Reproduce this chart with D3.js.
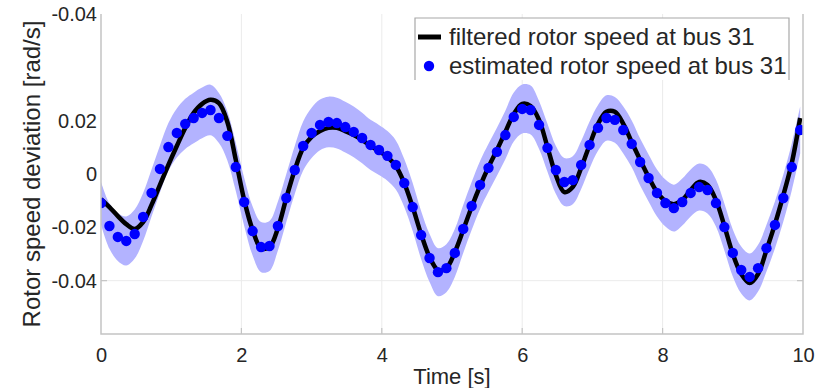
<!DOCTYPE html>
<html>
<head>
<meta charset="utf-8">
<script src="https://cdn.jsdelivr.net/npm/d3@7"></script>
<style>
  html, body { margin: 0; padding: 0; background: #fff; }
  svg { display: block; }
  text { font-family: "Liberation Sans", Arial, Helvetica, sans-serif; fill: #262626; }
</style>
</head>
<body>
<svg id="chart" width="818" height="388"></svg>
<script>
// Sample times [s]
const times = [0, 0.12, 0.24, 0.36, 0.48, 0.6, 0.72, 0.84, 0.96, 1.08, 1.2, 1.32, 1.44, 1.56, 1.68, 1.8, 1.92, 2.04, 2.16, 2.28,
  2.4, 2.52, 2.64, 2.76, 2.88, 3, 3.12, 3.24, 3.36, 3.48, 3.6, 3.72, 3.84, 3.96, 4.08, 4.2, 4.32, 4.44, 4.56, 4.68,
  4.8, 4.92, 5.04, 5.16, 5.28, 5.4, 5.52, 5.64, 5.76, 5.88, 6, 6.12, 6.24, 6.36, 6.48, 6.6, 6.72, 6.84, 6.96, 7.08,
  7.2, 7.32, 7.44, 7.56, 7.68, 7.8, 7.92, 8.04, 8.16, 8.28, 8.4, 8.52, 8.64, 8.76, 8.88, 9, 9.12, 9.24, 9.36, 9.48,
  9.6, 9.72, 9.84, 9.96];

// Filtered rotor speed deviation at bus 31 [rad/s]
const filtered = [-0.0094, -0.0124, -0.0158, -0.0188, -0.0206, -0.0180, -0.0116, -0.0041, 0.0034, 0.0105,
  0.0173, 0.0229, 0.0263, 0.0278, 0.0266, 0.0195, 0.0053, -0.0098, -0.0210, -0.0278,
  -0.0274, -0.0203, -0.0090, 0.0015, 0.0098, 0.0139, 0.0161, 0.0173, 0.0173, 0.0161,
  0.0146, 0.0128, 0.0105, 0.0086, 0.0064, 0.0030, -0.0034, -0.0124, -0.0225, -0.0311,
  -0.0360, -0.0353, -0.0293, -0.0210, -0.0124, -0.0045, 0.0026, 0.0090, 0.0158, 0.0225,
  0.0263, 0.0255, 0.0203, 0.0101, -0.0004, -0.0068, -0.0049, 0.0023, 0.0109, 0.0188,
  0.0233, 0.0233, 0.0188, 0.0120, 0.0053, -0.0011, -0.0068, -0.0101, -0.0113, -0.0098,
  -0.0060, -0.0030, -0.0041, -0.0098, -0.0195, -0.0300, -0.0375, -0.0409, -0.0375, -0.0285,
  -0.0188, -0.0079, 0.0041, 0.0210];

// Estimated rotor speed deviation at bus 31 [rad/s]
const estimated = [-0.0109, -0.0195, -0.0236, -0.0251, -0.0225, -0.0161, -0.0071, 0.0019, 0.0101, 0.0154,
  0.0188, 0.0210, 0.0229, 0.0240, 0.0210, 0.0143, 0.0026, -0.0105, -0.0214, -0.0274,
  -0.0270, -0.0195, -0.0090, 0.0015, 0.0105, 0.0154, 0.0184, 0.0195, 0.0191, 0.0176,
  0.0158, 0.0135, 0.0109, 0.0090, 0.0068, 0.0034, -0.0034, -0.0124, -0.0229, -0.0315,
  -0.0368, -0.0353, -0.0296, -0.0206, -0.0120, -0.0041, 0.0023, 0.0083, 0.0146, 0.0214,
  0.0244, 0.0240, 0.0184, 0.0098, 0.0015, -0.0030, -0.0023, 0.0034, 0.0109, 0.0173,
  0.0210, 0.0203, 0.0165, 0.0113, 0.0045, -0.0015, -0.0071, -0.0109, -0.0128, -0.0105,
  -0.0071, -0.0049, -0.0060, -0.0109, -0.0199, -0.0296, -0.0360, -0.0386, -0.0353, -0.0278,
  -0.0191, -0.0090, 0.0026, 0.0165];

// Half-width of the confidence band around the estimate [rad/s]
const bandHalf = [0.0080, 0.0085, 0.0090, 0.0092, 0.0092, 0.0090, 0.0088, 0.0088, 0.0090, 0.0092,
  0.0094, 0.0095, 0.0095, 0.0095, 0.0094, 0.0092, 0.0090, 0.0090, 0.0092, 0.0094,
  0.0094, 0.0092, 0.0090, 0.0090, 0.0092, 0.0094, 0.0095, 0.0095, 0.0095, 0.0095,
  0.0095, 0.0095, 0.0094, 0.0094, 0.0093, 0.0092, 0.0090, 0.0090, 0.0090, 0.0090,
  0.0090, 0.0090, 0.0090, 0.0090, 0.0090, 0.0090, 0.0090, 0.0090, 0.0091, 0.0092,
  0.0092, 0.0092, 0.0090, 0.0090, 0.0090, 0.0090, 0.0090, 0.0090, 0.0088, 0.0086,
  0.0085, 0.0086, 0.0088, 0.0088, 0.0088, 0.0088, 0.0088, 0.0088, 0.0088, 0.0088,
  0.0088, 0.0088, 0.0088, 0.0088, 0.0088, 0.0088, 0.0088, 0.0088, 0.0088, 0.0088,
  0.0088, 0.0088, 0.0088, 0.0088];

const xTickValues = [0, 2, 4, 6, 8, 10];
const xTickLabels = ["0", "2", "4", "6", "8", "10"];
const yTickValues = [0.06, 0.02, 0, -0.02, -0.04];
const yTickLabels = ["-0.04", "0.02", "0", "-0.02", "-0.04"];
const xGridValues = [2, 4, 6, 8];
const yGridValues = [-0.04];

const seriesNames = ["filtered rotor speed at bus 31", "estimated rotor speed at bus 31"];
const xTitle = "Time [s]";
const yTitle = "Rotor speed deviation [rad/s]";

// ---- layout ----
const plot = { left: 101, right: 803, top: 14, bottom: 334 };
const svg = d3.select("#chart");
svg.append("rect").attr("width", 818).attr("height", 388).attr("fill", "#fff");

const x = d3.scaleLinear().domain([0, 10]).range([plot.left, plot.right]);
const y = d3.scaleLinear().domain([-0.06, 0.06]).range([plot.bottom, plot.top]);

const rows = times.map((t, i) => ({ t, f: filtered[i], e: estimated[i], h: bandHalf[i] }));

// grid
const grid = svg.append("g");
grid.selectAll("line.vg").data(xGridValues).join("line")
  .attr("x1", d => x(d)).attr("x2", d => x(d))
  .attr("y1", plot.top).attr("y2", plot.bottom)
  .attr("stroke", "#ebebeb").attr("stroke-width", 1);
grid.selectAll("line.hg").data(yGridValues).join("line")
  .attr("x1", plot.left).attr("x2", plot.right)
  .attr("y1", d => y(d)).attr("y2", d => y(d))
  .attr("stroke", "#ebebeb").attr("stroke-width", 1);

// clip
svg.append("defs").append("clipPath").attr("id", "clip")
  .append("rect").attr("x", plot.left).attr("y", plot.top)
  .attr("width", plot.right - plot.left).attr("height", plot.bottom - plot.top);

const marks = svg.append("g").attr("clip-path", "url(#clip)");

// confidence band
const band = d3.area()
  .x(d => x(d.t))
  .y0(d => y(d.e - d.h))
  .y1(d => y(d.e + d.h))
  .curve(d3.curveCatmullRom);
marks.append("path").datum(rows).attr("d", band)
  .attr("fill", "#b3b3ff").attr("stroke", "none");

// filtered line
const line = d3.line().x(d => x(d.t)).y(d => y(d.f)).curve(d3.curveCatmullRom);
marks.append("path").datum(rows).attr("d", line)
  .attr("fill", "none").attr("stroke", "#000").attr("stroke-width", 4.5)
  .attr("stroke-linejoin", "round");

// estimated points
marks.selectAll("circle.est").data(rows).join("circle")
  .attr("cx", d => x(d.t)).attr("cy", d => y(d.e)).attr("r", 5.2)
  .attr("fill", "#0000ff");

// axes frame (left, bottom, right)
const axisColor = "#c4c4c4";
svg.append("path")
  .attr("d", `M${plot.left},${plot.top}V${plot.bottom}H${plot.right}V${plot.top}`)
  .attr("fill", "none").attr("stroke", axisColor).attr("stroke-width", 1.5);

// bottom ticks
svg.selectAll("line.xt").data(xGridValues).join("line")
  .attr("x1", d => x(d)).attr("x2", d => x(d))
  .attr("y1", plot.bottom).attr("y2", plot.bottom - 6)
  .attr("stroke", axisColor).attr("stroke-width", 1.2);
// left / right ticks at grid line
svg.selectAll("line.ytl").data(yGridValues).join("line")
  .attr("x1", plot.left).attr("x2", plot.left + 6)
  .attr("y1", d => y(d)).attr("y2", d => y(d))
  .attr("stroke", axisColor).attr("stroke-width", 1.2);
svg.selectAll("line.ytr").data(yGridValues).join("line")
  .attr("x1", plot.right).attr("x2", plot.right - 6)
  .attr("y1", d => y(d)).attr("y2", d => y(d))
  .attr("stroke", axisColor).attr("stroke-width", 1.2);

// x axis labels
const xAxis = d3.axisBottom(x).tickValues(xTickValues)
  .tickFormat((d, i) => xTickLabels[i]).tickSize(0).tickPadding(14);
const gx = svg.append("g").attr("transform", `translate(0,${plot.bottom})`).call(xAxis);
gx.select(".domain").remove();
gx.selectAll("text").style("font-size", "20px").style("fill", "#262626")
  .style("font-family", "'Liberation Sans', Arial, sans-serif");

// y axis labels
const yAxis = d3.axisLeft(y).tickValues(yTickValues)
  .tickFormat((d, i) => yTickLabels[i]).tickSize(0).tickPadding(4);
const gy = svg.append("g").attr("transform", `translate(${plot.left},0)`).call(yAxis);
gy.select(".domain").remove();
gy.selectAll("text").style("font-size", "20px").style("fill", "#262626")
  .style("font-family", "'Liberation Sans', Arial, sans-serif");

// axis titles
svg.append("text").attr("x", (plot.left + plot.right) / 2).attr("y", 384)
  .attr("text-anchor", "middle").style("font-size", "22px").text(xTitle);
svg.append("text")
  .attr("transform", `translate(40,${(plot.top + plot.bottom) / 2}) rotate(-90)`)
  .attr("text-anchor", "middle").style("font-size", "24px").text(yTitle);

// legend
const lg = svg.append("g");
lg.append("rect").attr("x", 415).attr("y", 18).attr("width", 374).attr("height", 62)
  .attr("fill", "#fff").attr("stroke", "none");
lg.append("path").attr("d", "M415,80V18H789V80")
  .attr("fill", "none").attr("stroke", "#a8a8a8").attr("stroke-width", 1.2);
lg.append("line").attr("x1", 418).attr("x2", 441).attr("y1", 37).attr("y2", 37)
  .attr("stroke", "#000").attr("stroke-width", 5);
lg.append("circle").attr("cx", 429).attr("cy", 66).attr("r", 5.2).attr("fill", "#0000ff");
lg.append("text").attr("x", 449).attr("y", 45).style("font-size", "24px").text(seriesNames[0]);
lg.append("text").attr("x", 449).attr("y", 74).style("font-size", "24px").text(seriesNames[1]);
</script>
</body>
</html>
